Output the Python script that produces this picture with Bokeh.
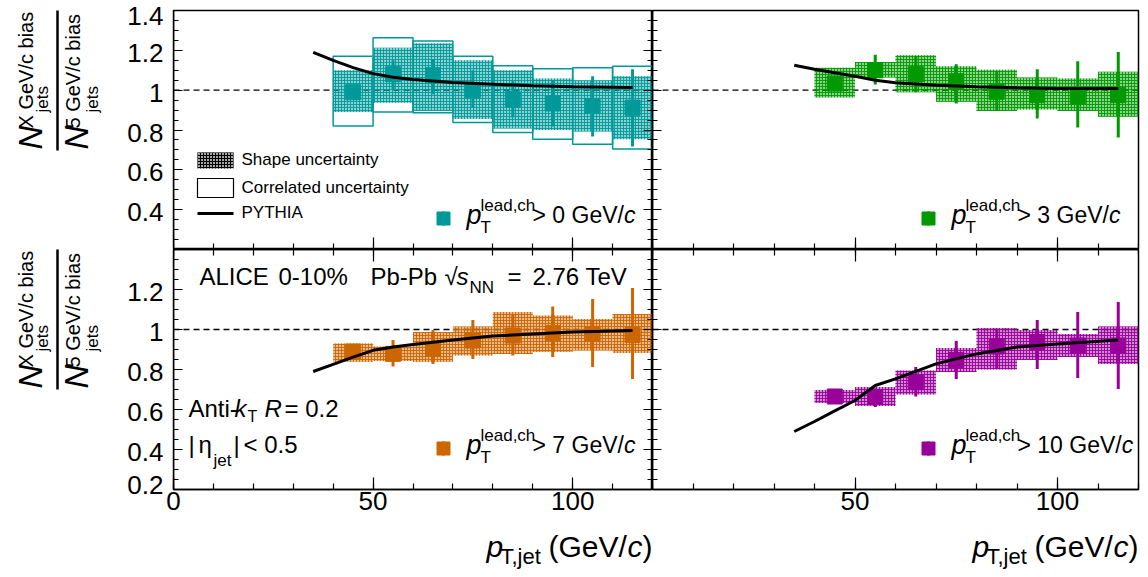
import numpy as np
from bokeh.plotting import figure
from bokeh.models import (LinearAxis, FixedTicker, Range1d, Label, Span)
from bokeh.layouts import column, row
from bokeh.embed import file_html
from bokeh.resources import INLINE

FONT = "Liberation Sans"

# ---------------- data ----------------
x_lo = [40, 50, 60, 70, 80, 90, 100, 110]
x_hi = [50, 60, 70, 80, 90, 100, 110, 120]
x_c = [45, 55, 65, 75, 85, 95, 105, 115]

# pT lead > 0 GeV/c
tl_val = [0.99, 1.08, 1.075, 1.00, 0.955, 0.933, 0.92, 0.912]
tl_stat_lo = [0.97, 1.003, 0.98, 0.91, 0.863, 0.817, 0.767, 0.717]
tl_stat_hi = [1.01, 1.15, 1.155, 1.10, 1.045, 1.05, 1.07, 1.105]
tl_shape_lo = [0.89, 0.937, 0.895, 0.855, 0.808, 0.80, 0.792, 0.753]
tl_shape_hi = [1.10, 1.213, 1.235, 1.15, 1.10, 1.058, 1.05, 1.07]
tl_corr_lo = [0.82, 0.89, 0.887, 0.838, 0.787, 0.753, 0.728, 0.705]
tl_corr_hi = [1.17, 1.263, 1.247, 1.17, 1.122, 1.108, 1.112, 1.12]

# pT lead > 3 GeV/c
tr_val = [1.033, 1.10, 1.08, 1.045, 0.992, 0.975, 0.97, 0.975]
tr_stat_lo = [1.01, 1.028, 0.99, 0.933, 0.895, 0.858, 0.812, 0.762]
tr_stat_hi = [1.055, 1.178, 1.17, 1.13, 1.095, 1.105, 1.145, 1.192]
tr_shape_lo = [0.963, 1.063, 0.99, 0.942, 0.895, 0.903, 0.895, 0.867]
tr_shape_hi = [1.113, 1.142, 1.175, 1.12, 1.103, 1.063, 1.058, 1.092]

# pT lead > 7 GeV/c
bl_val = [0.89, 0.878, 0.903, 0.945, 0.97, 0.982, 0.978, 0.973]
bl_stat_lo = [0.87, 0.815, 0.828, 0.853, 0.87, 0.862, 0.812, 0.753]
bl_stat_hi = [0.91, 0.948, 0.998, 1.048, 1.078, 1.115, 1.153, 1.207]
bl_shape_lo = [0.837, 0.842, 0.837, 0.87, 0.878, 0.887, 0.895, 0.882]
bl_shape_hi = [0.93, 0.915, 0.987, 1.015, 1.087, 1.07, 1.053, 1.078]

# pT lead > 10 GeV/c
br_val = [0.665, 0.662, 0.737, 0.848, 0.915, 0.937, 0.92, 0.92]
br_stat_lo = [0.645, 0.612, 0.665, 0.753, 0.803, 0.803, 0.757, 0.703]
br_stat_hi = [0.685, 0.705, 0.812, 0.942, 1.003, 1.048, 1.087, 1.137]
br_shape_lo = [0.632, 0.617, 0.675, 0.787, 0.80, 0.848, 0.862, 0.828]
br_shape_hi = [0.698, 0.712, 0.795, 0.908, 1.008, 0.998, 0.978, 1.015]

# PYTHIA curves
py_x = [35, 40, 45, 50, 55, 60, 70, 80, 90, 100, 115]
py_tl = [1.19, 1.15, 1.113, 1.083, 1.065, 1.053, 1.038, 1.03, 1.022, 1.017, 1.013]
py_tr = [1.125, 1.105, 1.087, 1.07, 1.05, 1.037, 1.025, 1.017, 1.012, 1.008, 1.008]
py_bl = [0.79, 0.826, 0.862, 0.896, 0.913, 0.925, 0.948, 0.967, 0.978, 0.987, 0.995]
py_br = [0.49, 0.54, 0.593, 0.645, 0.72, 0.753, 0.828, 0.878, 0.912, 0.928, 0.948]

x_ticks = [0, 50, 100]
y_ticks = [0.2, 0.4, 0.6, 0.8, 1.0, 1.2, 1.4]
y_labels_top = [0.4, 0.6, 0.8, 1.0, 1.2, 1.4]
y_labels_bot = [0.2, 0.4, 0.6, 0.8, 1.0, 1.2]

C_TEAL = "#009999"
C_GREEN = "#009900"
C_ORANGE = "#cc6600"
C_PURPLE = "#990099"

X0, X1, Y0, Y1 = 0.0, 120.0, 0.2, 1.4

# panel geometry in page pixels: frame left, frame top, frame width, frame height
G_TL = (173, 10, 479, 239)
G_TR = (652, 10, 486, 239)
G_BL = (173, 249, 479, 240)
G_BR = (652, 249, 486, 240)

YT_W = 165          # width of the left strip (y titles + y tick labels)
ROW1_H = 249
ROW2_H = 274
ROW3_H = 54
ROW3_TOP = ROW1_H + ROW2_H
TOTAL_W = 1140
CAP = 0.36          # distance baseline -> middle of capitals, in em


def px(g, xp, yp):
    x0, y0, w, h = g
    return X0 + (xp - x0) / w * (X1 - X0), Y1 - (yp - y0) / h * (Y1 - Y0)


def pix_y(g, v):
    return g[1] + (Y1 - v) / (Y1 - Y0) * g[3]


def make_fig(g, bl, br, bt, bb):
    p = figure(frame_width=g[2], frame_height=g[3], min_border_left=bl,
               min_border_right=br, min_border_top=bt, min_border_bottom=bb,
               x_range=Range1d(X0, X1), y_range=Range1d(Y0, Y1),
               x_axis_type=None, y_axis_type=None, title=None,
               toolbar_location=None, output_backend="svg")
    p.outline_line_color = "black"
    p.outline_line_width = 1.5
    p.background_fill_color = "white"
    p.border_fill_color = "white"
    return p


def make_aux(w, h):
    # blank figure whose data coordinates are its own pixels (y pointing down)
    p = figure(frame_width=w, frame_height=h, min_border=0,
               x_range=Range1d(0, w), y_range=Range1d(h, 0),
               x_axis_type=None, y_axis_type=None, title=None,
               toolbar_location=None, output_backend="svg")
    p.outline_line_color = None
    p.background_fill_color = "white"
    p.border_fill_color = "white"
    return p


def style_axis(ax, major_in, minor_in, labels, size="26px", standoff=2):
    ax.major_tick_in = major_in
    ax.major_tick_out = 0
    ax.minor_tick_in = minor_in
    ax.minor_tick_out = 0
    ax.axis_line_color = "black"
    ax.axis_line_width = 1.5
    ax.major_tick_line_width = 1.2
    ax.minor_tick_line_width = 1.2
    ax.major_tick_line_color = "black"
    ax.minor_tick_line_color = "black"
    if labels:
        ax.major_label_text_font = FONT
        ax.major_label_text_font_size = size
        ax.major_label_text_color = "black"
        ax.major_label_standoff = standoff
    else:
        ax.major_label_text_color = None
        ax.major_label_text_font_size = "0px"
        ax.major_label_standoff = 0


x_minor = list(np.arange(0, 121, 10.0))
y_minor = [round(v, 3) for v in np.arange(0.2, 1.4001, 0.05)]


def add_axes(p, left_panel, top_panel):
    if top_panel:
        ax = LinearAxis(ticker=FixedTicker(ticks=x_ticks, minor_ticks=x_minor), fixed_location=Y0)
        style_axis(ax, 12, 6, False)
        p.add_layout(ax, "below")
    else:
        lab_ticks = x_ticks if left_panel else [t for t in x_ticks if t > 0]
        ax = LinearAxis(ticker=FixedTicker(ticks=lab_ticks, minor_ticks=x_minor))
        style_axis(ax, 12, 6, True, "26px", 2)
        p.add_layout(ax, "below")
        ax2 = LinearAxis(ticker=FixedTicker(ticks=x_ticks, minor_ticks=x_minor), fixed_location=Y1)
        style_axis(ax2, 12, 6, False)
        p.add_layout(ax2, "above")
    ay = LinearAxis(ticker=FixedTicker(ticks=y_ticks, minor_ticks=y_minor), fixed_location=X0)
    style_axis(ay, 9, 5, False)
    p.add_layout(ay, "left")
    if left_panel:
        ay2 = LinearAxis(ticker=FixedTicker(ticks=y_ticks, minor_ticks=y_minor), fixed_location=X1)
        style_axis(ay2, 9, 5, False)
        p.add_layout(ay2, "right")


def label_at(p, x, y, text, size, italic=False, align="left", angle=0, color="black"):
    # (x, y) is the middle of the capitals at the start/end of the text
    p.add_layout(Label(x=x, y=y, text=text, text_font=FONT, text_font_size=f"{size}px",
                       text_font_style="italic" if italic else "normal",
                       text_align=align, text_baseline="middle",
                       angle=angle, angle_units="deg", text_color=color))


def add_label(p, g, xp, yp, text, size, italic=False, align="left", angle=0, color="black"):
    # (xp, yp) page pixel position of the text baseline
    if angle == 0:
        yp = yp - CAP * size
    else:
        xp = xp - CAP * size
    dx, dy = px(g, xp, yp)
    label_at(p, dx, dy, text, size, italic, align, angle, color)


def draw_data(p, color, val, slo, shi, shlo, shhi, pyy, clo=None, chi=None):
    p.add_layout(Span(location=1.0, dimension="width", line_color="black",
                      line_width=1.4, line_dash="6 4", level="underlay"))
    if clo is not None:
        p.quad(left=x_lo, right=x_hi, bottom=clo, top=chi, fill_color=None,
               line_color=color, line_width=1.5)
    p.quad(left=x_lo, right=x_hi, bottom=shlo, top=shhi, fill_color=color,
           fill_alpha=0.45, line_color=None, hatch_pattern="cross",
           hatch_color=color, hatch_scale=3, hatch_weight=1, hatch_alpha=0.9)
    p.segment(x0=x_c, x1=x_c, y0=slo, y1=shi, line_color=color, line_width=3)
    p.scatter(x=x_c, y=val, marker="square", size=15, fill_color=color, line_color=color)
    p.line(x=py_x, y=pyy, line_color="black", line_width=3)


def pt_label(p, g, mx, my, color, thr):
    x, y = px(g, mx, my)
    _, ya = px(g, mx, my - 7)
    _, yb = px(g, mx, my + 7)
    p.segment(x0=[x], x1=[x], y0=[yb], y1=[ya], line_color=color, line_width=3)
    p.scatter(x=[x], y=[y], marker="square", size=13, fill_color=color, line_color=color)
    add_label(p, g, mx + 23, my + 6, "p", 27, italic=True)
    add_label(p, g, mx + 37, my - 7, "lead,ch", 17)
    add_label(p, g, mx + 37, my + 15, "T", 17)
    rest = f"> {thr} GeV/"
    add_label(p, g, mx + 89, my + 5, rest, 23)
    w = 23 * (0.584 + 0.278 + 0.278 + 0.556 * len(str(thr)) + 0.778 + 0.556 + 0.667 + 0.278)
    add_label(p, g, mx + 89 + w, my + 5, "c", 23, italic=True)


def rot(s, xb, yp, text, size, italic=False):
    # rotated text, xb = screen x of the baseline, yp = screen y where the text starts
    label_at(s, xb - CAP * size, yp, text, size, italic=italic, angle=90)


def y_title(s, top):
    rot(s, 42, top + 139, "N", 33, italic=True)
    rot(s, 33, top + 118, "X GeV/c bias", 20)
    rot(s, 48, top + 102, "jets", 17)
    s.segment(x0=[57], x1=[57], y0=[top], y1=[top + 140], line_color="black", line_width=2.5)
    rot(s, 88, top + 139, "N", 33, italic=True)
    rot(s, 80, top + 118, "5 GeV/c bias", 20)
    rot(s, 98, top + 102, "jets", 17)


def y_tick_labels(s, g, ticks, edge_top=None, edge_bot=None):
    for t in ticks:
        txt = "1" if abs(t - 1.0) < 1e-9 else f"{t:.1f}"
        shift = 2.5            # capitals sit slightly below the tick in the reference
        if edge_top is not None and abs(t - edge_top) < 1e-9:
            shift = 5.5
        if edge_bot is not None and abs(t - edge_bot) < 1e-9:
            shift = -5.0
        label_at(s, 163, pix_y(g, t) + shift, txt, 26, align="right")


def x_title(p, x_end):
    base = 557 - ROW3_TOP
    label_at(p, x_end - 166, base - CAP * 30, "p", 30, italic=True)
    label_at(p, x_end - 152, base + 7 - CAP * 22, "T,jet", 22)
    label_at(p, x_end - 104, base - CAP * 30, "(GeV/", 30)
    label_at(p, x_end - 25, base - CAP * 30, "c", 30, italic=True)
    label_at(p, x_end - 10, base - CAP * 30, ")", 30)


# ---------------- left strip (titles and y tick labels) ----------------
ys = make_aux(YT_W, ROW1_H + ROW2_H)
y_title(ys, G_TL[1])
y_title(ys, G_BL[1])
y_tick_labels(ys, G_TL, y_labels_top, edge_top=1.4)
y_tick_labels(ys, G_BL, y_labels_bot, edge_bot=0.2)

# ---------------- panels ----------------
LB = G_TL[0] - YT_W   # small gap between the strip and the left frames

p_tl = make_fig(G_TL, LB, 0, 10, 0)
add_axes(p_tl, True, True)
draw_data(p_tl, C_TEAL, tl_val, tl_stat_lo, tl_stat_hi, tl_shape_lo, tl_shape_hi, py_tl,
          tl_corr_lo, tl_corr_hi)
pt_label(p_tl, G_TL, 443, 218, C_TEAL, 0)
# legend
lx0, ly0 = px(G_TL, 197, 152)
lx1, ly1 = px(G_TL, 233, 168)
p_tl.quad(left=[lx0], right=[lx1], top=[ly0], bottom=[ly1], fill_color="black", fill_alpha=0.35,
          line_color=None, hatch_pattern="cross", hatch_color="black", hatch_scale=3,
          hatch_weight=1)
cx0, cy0 = px(G_TL, 197, 178)
cx1, cy1 = px(G_TL, 233, 197)
p_tl.quad(left=[cx0], right=[cx1], top=[cy0], bottom=[cy1], fill_color=None,
          line_color="black", line_width=1.2)
qx0, qy = px(G_TL, 197, 213)
qx1, _ = px(G_TL, 233, 213)
p_tl.line(x=[qx0, qx1], y=[qy, qy], line_color="black", line_width=3)
add_label(p_tl, G_TL, 241, 165, "Shape uncertainty", 17)
add_label(p_tl, G_TL, 241, 193, "Correlated uncertainty", 17)
add_label(p_tl, G_TL, 241, 218, "PYTHIA", 17)

p_tr = make_fig(G_TR, 0, 2, 10, 0)
add_axes(p_tr, False, True)
draw_data(p_tr, C_GREEN, tr_val, tr_stat_lo, tr_stat_hi, tr_shape_lo, tr_shape_hi, py_tr)
pt_label(p_tr, G_TR, 928, 218, C_GREEN, 3)

p_bl = make_fig(G_BL, LB, 0, 0, ROW2_H - G_BL[3])
add_axes(p_bl, True, False)
draw_data(p_bl, C_ORANGE, bl_val, bl_stat_lo, bl_stat_hi, bl_shape_lo, bl_shape_hi, py_bl)
pt_label(p_bl, G_BL, 443, 448, C_ORANGE, 7)
add_label(p_bl, G_BL, 199, 285, "ALICE", 24)
add_label(p_bl, G_BL, 278, 285, "0-10%", 24)
add_label(p_bl, G_BL, 370, 285, "Pb-Pb", 24)
add_label(p_bl, G_BL, 444, 285, "\u221a", 24)
add_label(p_bl, G_BL, 456, 285, "s", 24, italic=True)
add_label(p_bl, G_BL, 469, 293, "NN", 17)
add_label(p_bl, G_BL, 507, 285, "=", 24)
add_label(p_bl, G_BL, 532, 285, "2.76 TeV", 24)
add_label(p_bl, G_BL, 188, 417, "Anti-", 24)
add_label(p_bl, G_BL, 234, 417, "k", 24, italic=True)
add_label(p_bl, G_BL, 247, 422, "T", 16)
add_label(p_bl, G_BL, 264, 417, "R", 24, italic=True)
add_label(p_bl, G_BL, 284, 417, "= 0.2", 24)
add_label(p_bl, G_BL, 188, 453, "|", 24)
add_label(p_bl, G_BL, 198, 453, "\u03b7", 24)
add_label(p_bl, G_BL, 213, 466, "jet", 17)
add_label(p_bl, G_BL, 233, 453, "|", 24)
add_label(p_bl, G_BL, 243, 453, "< 0.5", 24)

p_br = make_fig(G_BR, 0, 2, 0, ROW2_H - G_BR[3])
add_axes(p_br, False, False)
draw_data(p_br, C_PURPLE, br_val, br_stat_lo, br_stat_hi, br_shape_lo, br_shape_hi, py_br)
pt_label(p_br, G_BR, 928, 448, C_PURPLE, 10)

xt = make_aux(TOTAL_W, ROW3_H)
x_title(xt, G_BL[0] + G_BL[2])
x_title(xt, G_BR[0] + G_BR[2])

panels = column(row(p_tl, p_tr, spacing=0), row(p_bl, p_br, spacing=0), spacing=0)
p = column(row(ys, panels, spacing=0), xt, spacing=0)

open("out.html", "w").write(file_html(p, INLINE))
